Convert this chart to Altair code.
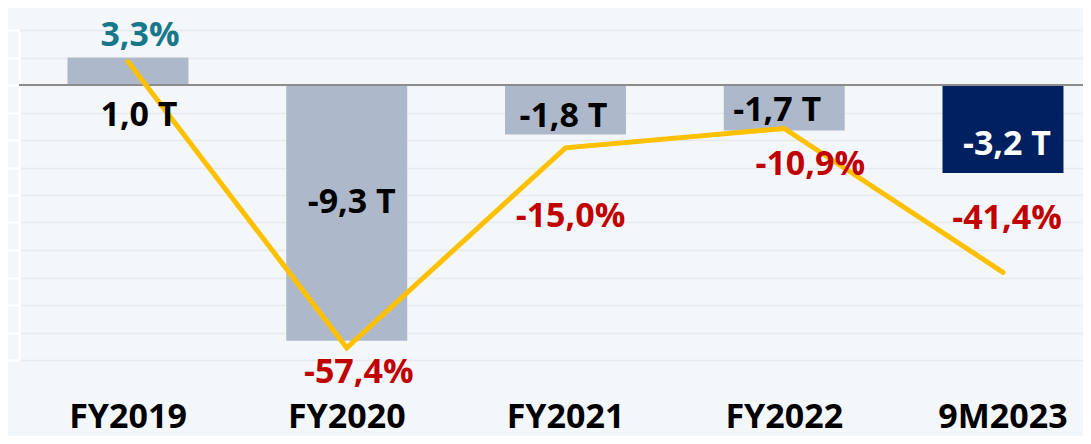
import altair as alt
import pandas as pd

# ---- data ----
categories = ["FY2019", "FY2020", "FY2021", "FY2022", "9M2023"]
balance_t = [1.0, -9.3, -1.8, -1.65, -3.2]          # bars, trillions
balance_labels = ["1,0 T", "-9,3 T", "-1,8 T", "-1,7 T", "-3,2 T"]
growth_pct = [3.3, -57.4, -15.0, -10.9, -41.4]      # line, %
growth_labels = ["3,3%", "-57,4%", "-15,0%", "-10,9%", "-41,4%"]
bar_ticks = list(range(-10, 3))

# ---- styles ----
FONT = "Open Sans"
BG = "#F4F7FA"
BAR_GREY = "#ADB9CA"
NAVY = "#002060"
GOLD = "#FFC000"
RED = "#C00000"
TEAL = "#17788C"
bar_colors = [BAR_GREY, BAR_GREY, BAR_GREY, BAR_GREY, NAVY]
bar_label_colors = ["#000000", "#000000", "#000000", "#000000", "#FFFFFF"]
pct_label_colors = [TEAL, RED, RED, RED, RED]
bar_label_dx = [11, 5, -2, -7, 4]
bar_label_dy = [58, -138, -18, -19, -28]
pct_label_dx = [12, 12, 5, 26, 4]
pct_label_dy = [-26, 25, 69, 36, -53]

BAR_DOMAIN = [-10, 2]
PCT_DOMAIN = [-60, 10]

df = pd.DataFrame({
    "cat": categories,
    "bal": balance_t,
    "bal_label": balance_labels,
    "pct": growth_pct,
    "pct_label": growth_labels,
})

x_enc = alt.X(
    "cat:N",
    sort=categories,
    scale=alt.Scale(paddingInner=0.447, paddingOuter=0.1555, align=0.713, round=False),
    axis=alt.Axis(
        title=None, labelAngle=0, labelFont=FONT, labelFontWeight="bold",
        labelFontSize=34, labelColor="#000000", domain=False, ticks=False,
        tickSize=0, labelPadding=40, grid=False,
    ),
)

bar_scale = alt.Scale(domain=BAR_DOMAIN, nice=False, zero=False)
pct_scale = alt.Scale(domain=PCT_DOMAIN, nice=False, zero=False)

bars = alt.Chart(df).mark_bar().encode(
    x=x_enc,
    y=alt.Y(
        "bal:Q", scale=bar_scale,
        axis=alt.Axis(
            values=bar_ticks, labels=False, title=None,
            domainColor="#FFFFFF", domainWidth=2,
            tickColor="#FFFFFF", tickWidth=2, tickSize=12,
            gridColor="#E6E9ED", gridWidth=1.5,
        ),
    ),
    color=alt.Color("cat:N", scale=alt.Scale(domain=categories, range=bar_colors), legend=None),
)

zero_rule = alt.Chart(df).mark_rule(color="#8C8C8C", strokeWidth=2).encode(
    y=alt.Y(datum=0, scale=bar_scale, axis=None)
)

line = alt.Chart(df).mark_line(color=GOLD, strokeWidth=5, strokeCap="round", strokeJoin="miter").encode(
    x=alt.X("cat:N", sort=categories),
    y=alt.Y("pct:Q", scale=pct_scale, axis=None),
)

bar_texts = []
for i, c in enumerate(categories):
    bar_texts.append(
        alt.Chart(df).transform_filter(alt.datum.cat == c).mark_text(
            font=FONT, fontWeight="bold", fontSize=34, color=bar_label_colors[i],
            dx=bar_label_dx[i], dy=bar_label_dy[i], baseline="middle", align="center",
        ).encode(
            x=alt.X("cat:N", sort=categories),
            y=alt.Y("bal:Q", scale=bar_scale, axis=None),
            text="bal_label:N",
        )
    )

pct_texts = []
for i, c in enumerate(categories):
    pct_texts.append(
        alt.Chart(df).transform_filter(alt.datum.cat == c).mark_text(
            font=FONT, fontWeight="bold", fontSize=34, color=pct_label_colors[i],
            dx=pct_label_dx[i], dy=pct_label_dy[i], baseline="middle", align="center",
        ).encode(
            x=alt.X("cat:N", sort=categories),
            y=alt.Y("pct:Q", scale=pct_scale, axis=None),
            text="pct_label:N",
        )
    )

chart = alt.layer(bars, zero_rule, line, *bar_texts, *pct_texts).resolve_scale(
    y="independent"
).properties(
    width=1064,
    height=330,
    padding={"left": 11, "top": 22, "right": 0, "bottom": 76},
    autosize=alt.AutoSizeParams(type="none"),
    background=BG,
).configure_view(stroke=None)

chart.save("out.html", embed_options={"renderer": "svg", "actions": False})
